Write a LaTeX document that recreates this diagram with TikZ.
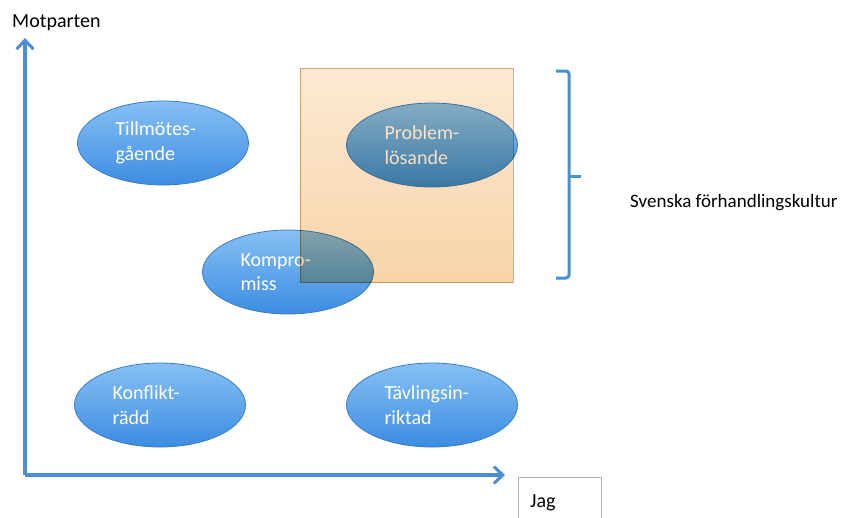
\documentclass[tikz,border=0pt]{standalone}
\usepackage{fontspec}
\setmainfont{Carlito}
\usetikzlibrary{shapes.geometric,arrows.meta,positioning}

\definecolor{axisblue}{HTML}{4A8ED6}
\definecolor{ovaltop}{HTML}{86C0F4}
\definecolor{ovalbot}{HTML}{3C8CE2}
\definecolor{ovalline}{HTML}{3D7CC4}
\definecolor{boxtop}{HTML}{FCE9D4}
\definecolor{boxbot}{HTML}{F8D4A8}

\begin{document}
\begin{tikzpicture}[
  x=1pt, y=-1pt,
  font=\fontsize{20}{24.5}\selectfont,
  oval/.style={ellipse, draw=ovalline, line width=0.8pt, top color=ovaltop,
    bottom color=ovalbot, minimum width=171pt, minimum height=84pt,
    inner sep=0pt, text=white, text width=95pt, align=left},
  axis/.style={axisblue, line width=3.5pt, -{Straight Barb[length=9pt,width=17pt,line width=3pt]}},
  label/.style={anchor=base west, inner sep=0pt}
  ]
  \useasboundingbox (0,0) rectangle (845,517);

  % axes
  \coordinate (O) at (25,475);
  \coordinate (ytop) at (25,38);
  \coordinate (xend) at (505,475);
  \draw[axis] (O) -- (ytop);
  \draw[axis] (O) -- (xend);

  \node[label] (motparten) at (12,27) {Motparten};
  \draw[gray!60, line width=1pt] (518,520) |- (601,477) -- (601,520);
  \node[label] (jag) at (530,507) {Jag};

  % styles
  \node[oval] (tillmotes) at (163,143) {Tillmötes-\\gående};
  \node[oval] (problem)   at (432,145) {Problem-\\lösande};
  \node[oval] (kompromiss) at (288,272) {Kompro-\\miss};
  \node[oval] (konflikt)  at (160,405) {Konflikt-\\rädd};
  \node[oval] (tavling)   at (432,405) {Tävlingsin-\\riktad};

  % the swedish zone, laid over the ovals
  \begin{scope}[blend mode=multiply]
    \node[draw=boxbot!85!black, line width=0.4pt, top color=boxtop, bottom color=boxbot,
      minimum width=213pt, minimum height=214pt, inner sep=0pt]
      (zone) at (406.5,175) {};
  \end{scope}

  % bracket
  \coordinate (btop) at (556,71);
  \coordinate (bmid) at (569,176);
  \coordinate (bbot) at (556,278);
  \draw[axisblue, line width=3pt, rounded corners=3pt]
    (btop) -| (bmid) |- (bbot);
  \draw[axisblue, line width=3pt] (bmid) -- ++(12,0);

  \node[label, font=\fontsize{19}{23}\selectfont] (svenska) at (630,207) {Svenska förhandlingskultur};
\end{tikzpicture}
\end{document}
